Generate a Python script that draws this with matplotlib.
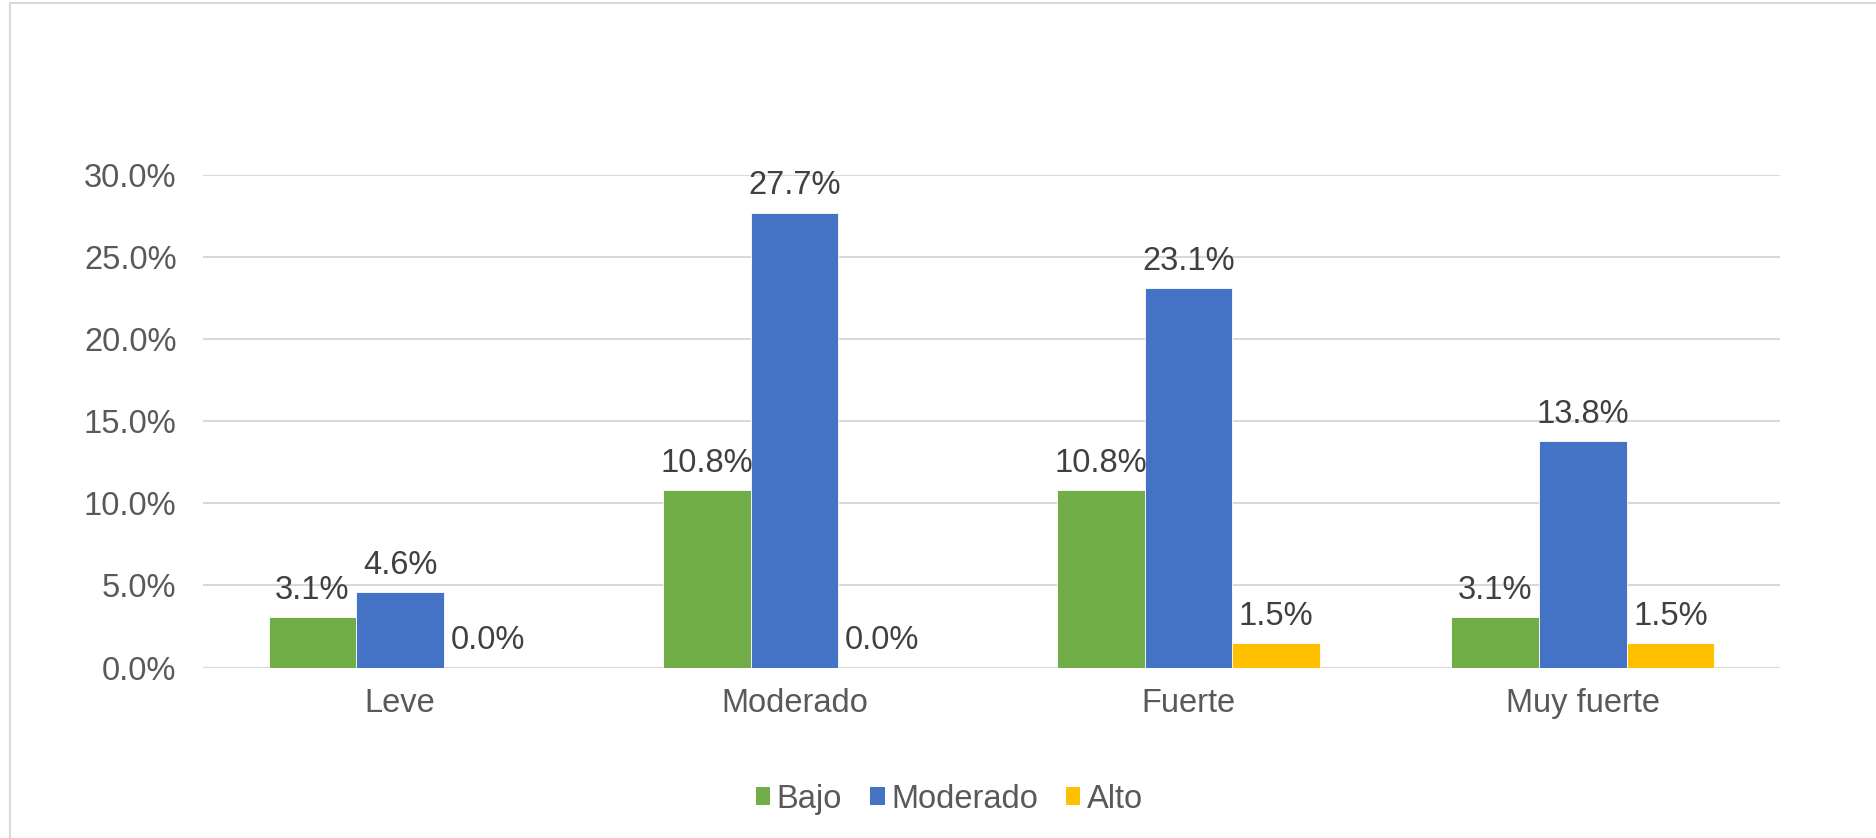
#!/usr/bin/env python3
"""Grouped bar chart: share of cases by intensity and level (Bajo / Moderado / Alto)."""

import matplotlib
matplotlib.use("Agg")
import matplotlib.pyplot as plt
import numpy as np
from matplotlib.lines import Line2D
from matplotlib.patches import Patch

categories = ["Leve", "Moderado", "Fuerte", "Muy fuerte"]
series_names = ["Bajo", "Moderado", "Alto"]
bajo = [3.1, 10.8, 10.8, 3.1]
moderado = [4.6, 27.7, 23.1, 13.8]
alto = [0.0, 0.0, 1.5, 1.5]
y_ticks = [0.0, 5.0, 10.0, 15.0, 20.0, 25.0, 30.0]

COLORS = ["#70AD47", "#4472C4", "#FFC000"]
TEXT_COLOR = "#595959"
LABEL_COLOR = "#404040"
GRID_COLOR = "#D9D9D9"
FONT = ["Liberation Sans", "DejaVu Sans"]
FS = 23.5

plt.rcParams["font.family"] = FONT

fig = plt.figure(figsize=(18.76, 8.38), dpi=100)
ax = fig.add_axes([0.1082, 0.2034, 0.8406, 0.5881])

x = np.arange(len(categories))
width = 1.0 / 4.5
values = [bajo, moderado, alto]
for i, (vals, color) in enumerate(zip(values, COLORS)):
    xs = x + (i - 1) * width
    ax.bar(xs, vals, width=width, color=color, edgecolor="white",
           linewidth=0.6, zorder=2)
    for xi, v in zip(xs, vals):
        ax.annotate(f"{v:.1f}%", (xi, v), xytext=(0, 8), textcoords="offset points",
                    ha="center", va="bottom", fontsize=FS, color=LABEL_COLOR)

ax.set_xlim(-0.5, len(categories) - 0.5)
ax.set_ylim(0, 30)
ax.set_yticks(y_ticks)
ax.set_yticklabels([f"{t:.1f}%" for t in y_ticks])
ax.set_xticks(x)
ax.set_xticklabels(categories)
ax.tick_params(axis="y", length=0, pad=19, labelsize=FS, labelcolor=TEXT_COLOR)
ax.tick_params(axis="x", length=0, pad=15, labelsize=FS, labelcolor=TEXT_COLOR)

ax.grid(axis="y", color=GRID_COLOR, linewidth=1.5, zorder=0)
ax.set_axisbelow(True)
for side in ("top", "right", "left", "bottom"):
    ax.spines[side].set_visible(False)
ax.axhline(0, color=GRID_COLOR, linewidth=1.5, zorder=1)

handles = [Patch(facecolor=c, edgecolor="none", label=n) for c, n in zip(COLORS, series_names)]
fig.legend(handles=handles, loc="center", bbox_to_anchor=(0.506, 1 - 799 / 838),
           ncol=3, frameon=False, fontsize=FS, labelcolor=TEXT_COLOR,
           handlelength=0.45, handleheight=0.45, handletextpad=0.2, columnspacing=0.85)

# chart area frame (only the top and left edges fall inside the canvas)
fig.add_artist(Line2D([10 / 1876, 1.0], [1 - 3 / 838, 1 - 3 / 838],
                      transform=fig.transFigure, color="#D9D9D9", linewidth=1.5))
fig.add_artist(Line2D([10 / 1876, 10 / 1876], [0.0, 1 - 3 / 838],
                      transform=fig.transFigure, color="#D9D9D9", linewidth=1.5))

fig.savefig("out.png", dpi=100, facecolor="white")
